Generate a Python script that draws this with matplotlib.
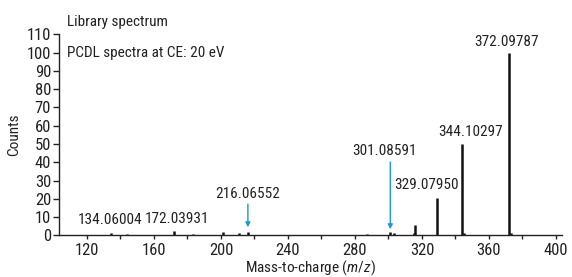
import matplotlib
matplotlib.use("Agg")
import matplotlib.pyplot as plt
from matplotlib.ticker import MultipleLocator

"""
@Brief: library MS/MS spectrum (PCDL, CE 20 eV)
"""

# peaks: m/z and counts
mz = [134.06, 143.8, 172.04, 183.4, 201.4, 210.8, 216.07, 287.0, 301.09, 303.3,
      315.0, 316.1, 329.08, 344.10, 345.2, 372.10, 373.2]
counts = [1.5, 0.9, 2.2, 0.9, 1.6, 1.4, 2.0, 0.9, 1.8, 1.5,
          1.2, 5.5, 20.3, 50.0, 1.5, 100.0, 1.5]

# labelled peaks: text and label position (data coords)
label_text = ["134.06004", "172.03931", "216.06552", "301.08591",
              "329.07950", "344.10297", "372.09787"]
label_x = [133.5, 174.0, 216.2, 297.6, 322.5, 349.3, 370.2]
label_y = [8.4, 9.0, 22.6, 46.2, 27.8, 56.6, 106.1]

# arrows pointing at minor peaks
arrow_x = [216.07, 301.09]
arrow_top = [17.1, 40.1]
arrow_tip = [4.4, 3.3]

FONT = ['Roboto Condensed', 'Archivo Narrow', 'DejaVu Sans']
plt.rcParams['font.family'] = FONT
plt.rcParams['mathtext.fontset'] = 'custom'
plt.rcParams['mathtext.rm'] = 'Roboto Condensed'
plt.rcParams['mathtext.it'] = 'Roboto Condensed:italic'
plt.rcParams['font.size'] = 11
INK = '#222222'

fig = plt.figure(figsize=(5.72, 2.77), dpi=100)
ax = fig.add_axes([59 / 572, 41.7 / 277, 503 / 572, 200.9 / 277])

ax.vlines(mz, 0, counts, color='#111111', linewidth=1.8)

for t, x, y in zip(label_text, label_x, label_y):
    ax.text(x, y, t, ha='center', va='center', fontsize=11, color=INK)

for x, y0, y1 in zip(arrow_x, arrow_top, arrow_tip):
    ax.annotate('', xy=(x, y1), xytext=(x, y0),
                arrowprops=dict(arrowstyle='-|>', color='#1a9bd7', lw=1.0,
                                mutation_scale=7, shrinkA=0, shrinkB=0))

ax.set_xlim(103.3, 403.6)
ax.set_ylim(0, 110)
ax.xaxis.set_major_locator(MultipleLocator(40))
ax.xaxis.set_minor_locator(MultipleLocator(20))
ax.set_xticks(range(120, 401, 40))
ax.yaxis.set_major_locator(MultipleLocator(10))
ax.tick_params(axis='both', which='major', width=1, labelsize=12, colors=INK)
ax.tick_params(axis='x', which='both', length=3, pad=2.5)
ax.tick_params(axis='y', which='major', length=4.5, pad=1.2)
ax.tick_params(axis='x', which='minor', width=1, colors=INK)
ax.spines['top'].set_visible(False)
ax.spines['right'].set_visible(False)
for s in ('left', 'bottom'):
    ax.spines[s].set_linewidth(1.0)
    ax.spines[s].set_color(INK)

ax.set_ylabel('Counts', fontsize=11, labelpad=4, color=INK)
ax.set_xlabel('Mass-to-charge ($m/z$)', fontsize=11, labelpad=0, color=INK)

fig.text(67 / 572, 1 - 22 / 277, 'Library spectrum', ha='left', va='center',
         fontsize=11, color=INK)
ax.text(0.016, 100, 'PCDL spectra at CE: 20 eV', transform=ax.get_yaxis_transform(),
        ha='left', va='center', fontsize=11, color=INK)

fig.savefig('out.png', dpi=100)
